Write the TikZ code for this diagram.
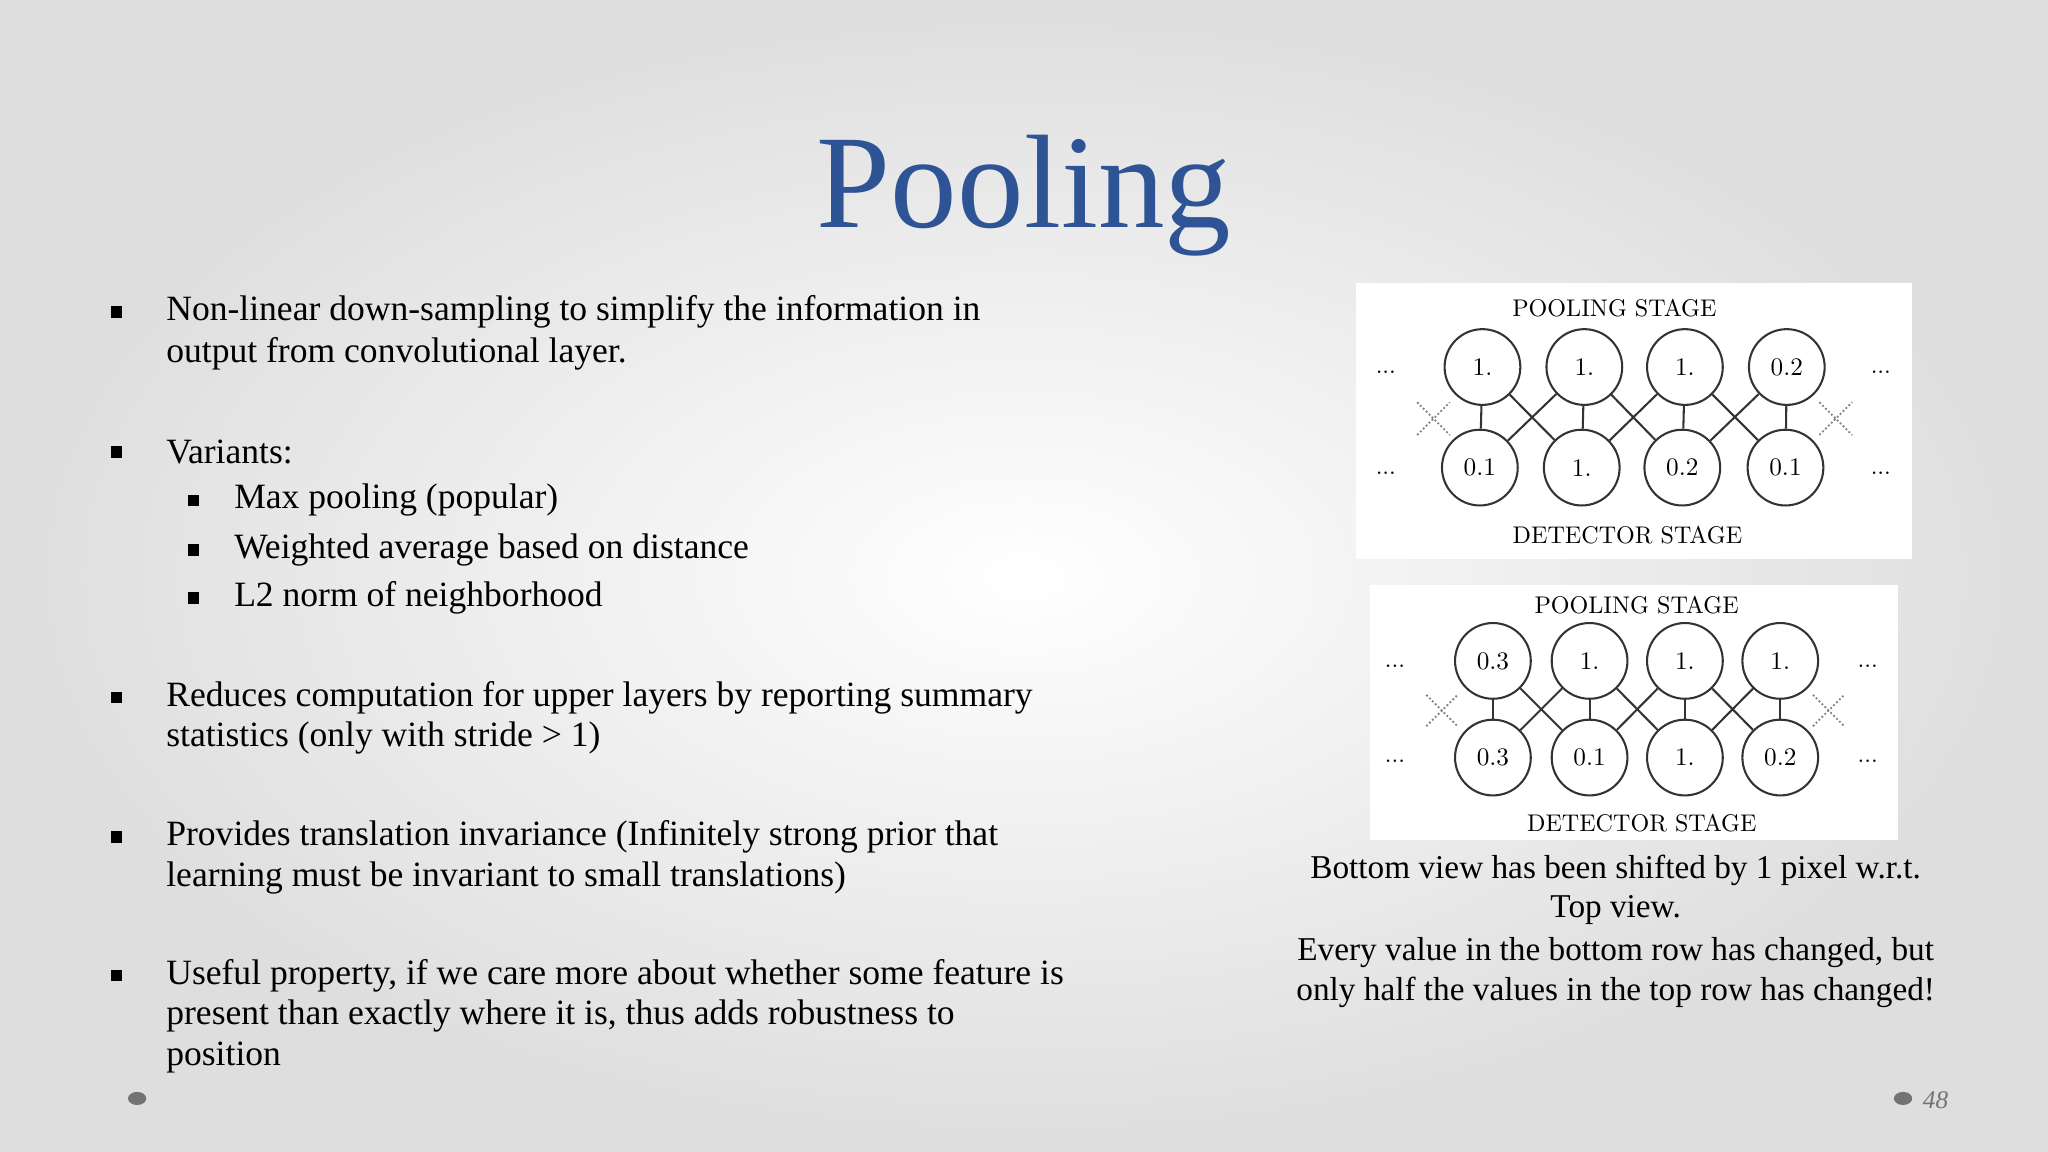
\documentclass[tikz,border=0pt]{standalone}
\usepackage{fontspec}
\setmainfont{Liberation Serif}
\newfontfamily\cmfont{Latin Modern Roman}
\definecolor{titleblue}{RGB}{46,84,150}
\tikzset{
 bul/.style={anchor=west,font=\fontsize{15.5}{18}\selectfont,inner sep=0pt},
 sq/.style={fill=black,minimum size=5pt,inner sep=0pt},
 cell/.style={circle,draw=black!80,line width=0.9pt,minimum size=1.16cm,inner sep=0pt,fill=white,font=\cmfont\fontsize{11}{12}\selectfont},
 lab/.style={font=\cmfont\fontsize{10.5}{12}\selectfont},
 edge/.style={line width=0.9pt,draw=black!80},
 captxt/.style={font=\fontsize{14.5}{17}\selectfont},
}
\begin{document}
\begin{tikzpicture}[x=0.02cm,y=-0.02cm]
\useasboundingbox (0,0) rectangle (1568,882);
\shade[inner color=white,outer color=black!13] (0,0) rectangle (1568,882);
\node[font=\fontsize{58}{60}\selectfont,text=titleblue] (title) at (784,150) {Pooling};
% bullets
\foreach \y/\t in {239/{Non-linear down-sampling to simplify the information in},271/{output from convolutional layer.},346/{Variants:},534/{Reduces computation for upper layers by reporting summary},565/{statistics (only with stride > 1)},641/{Provides translation invariance (Infinitely strong prior that},672/{learning must be invariant to small translations)},747/{Useful property, if we care more about whether some feature is},778/{present than exactly where it is, thus adds robustness to},810/{position}}
  \node[bul] at (127,\y) {\t};
\foreach \y in {239,346,534,641,747} \node[sq] at (89,\y) {};
\foreach \y/\t in {383/{Max pooling (popular)},421/{Weighted average based on distance},458/{L2 norm of neighborhood}}
  {\node[bul] at (179,\y) {\t}; \node[sq] at (148,\y) {};}
% panel 1
\fill[white] (1038,217) rectangle (1464,428);
\node[lab] (p1) at (1236,236) {POOLING STAGE};
\node[lab] (d1) at (1246,410) {DETECTOR STAGE};
\foreach \i/\x/\v in {1/1135/1.,2/1213/1.,3/1290/1.,4/1368/0.2} \node[cell] (a\i) at (\x,281) {\v};
\foreach \i/\x/\v in {1/1133/0.1,2/1211/1.,3/1288/0.2,4/1367/0.1} \node[cell] (b\i) at (\x,358) {\v};
\foreach \i in {1,...,4} \draw[edge] (a\i) -- (b\i);
\draw[edge] (a1) -- (b2) (a2) -- (b1) (a2) -- (b3) (a3) -- (b2) (a3) -- (b4) (a4) -- (b3);
\draw[densely dotted,thick,black!50] (1085,308) -- (1110,333) (1085,333) -- (1110,308) (1393,308) -- (1418,333) (1393,333) -- (1418,308);
\foreach \x/\y in {1061/285,1061/362,1440/285,1440/362} \node[lab] at (\x,\y) {...};
% panel 2
\fill[white] (1049,448) rectangle (1453,643);
\node[lab] (p2) at (1253,463) {POOLING STAGE};
\node[lab] (d2) at (1257,630) {DETECTOR STAGE};
\foreach \i/\x/\v in {1/1143/0.3,2/1217/1.,3/1290/1.,4/1363/1.} \node[cell] (c\i) at (\x,506) {\v};
\foreach \i/\x/\v in {1/1143/0.3,2/1217/0.1,3/1290/1.,4/1363/0.2} \node[cell] (e\i) at (\x,580) {\v};
\foreach \i in {1,...,4} \draw[edge] (c\i) -- (e\i);
\draw[edge] (c1) -- (e2) (c2) -- (e1) (c2) -- (e3) (c3) -- (e2) (c3) -- (e4) (c4) -- (e3);
\draw[densely dotted,thick,black!50] (1092,532) -- (1116,556) (1092,556) -- (1116,532) (1388,532) -- (1412,556) (1388,556) -- (1412,532);
\foreach \x/\y in {1068/510,1068/583,1430/510,1430/583} \node[lab] at (\x,\y) {...};
% caption
\foreach \y/\t in {666/{Bottom view has been shifted by 1 pixel w.r.t.},697/{Top view.},729/{Every value in the bottom row has changed, but},760/{only half the values in the top row has changed!}}
  \node[captxt] at (1237,\y) {\t};
% footer
\fill[black!55] (105,841) ellipse (7 and 5);
\fill[black!55] (1457,841) ellipse (7 and 5);
\node[anchor=west,font=\fontsize{11}{12}\selectfont\itshape,text=black!55] (pg) at (1466,842) {48};
\end{tikzpicture}
\end{document}
